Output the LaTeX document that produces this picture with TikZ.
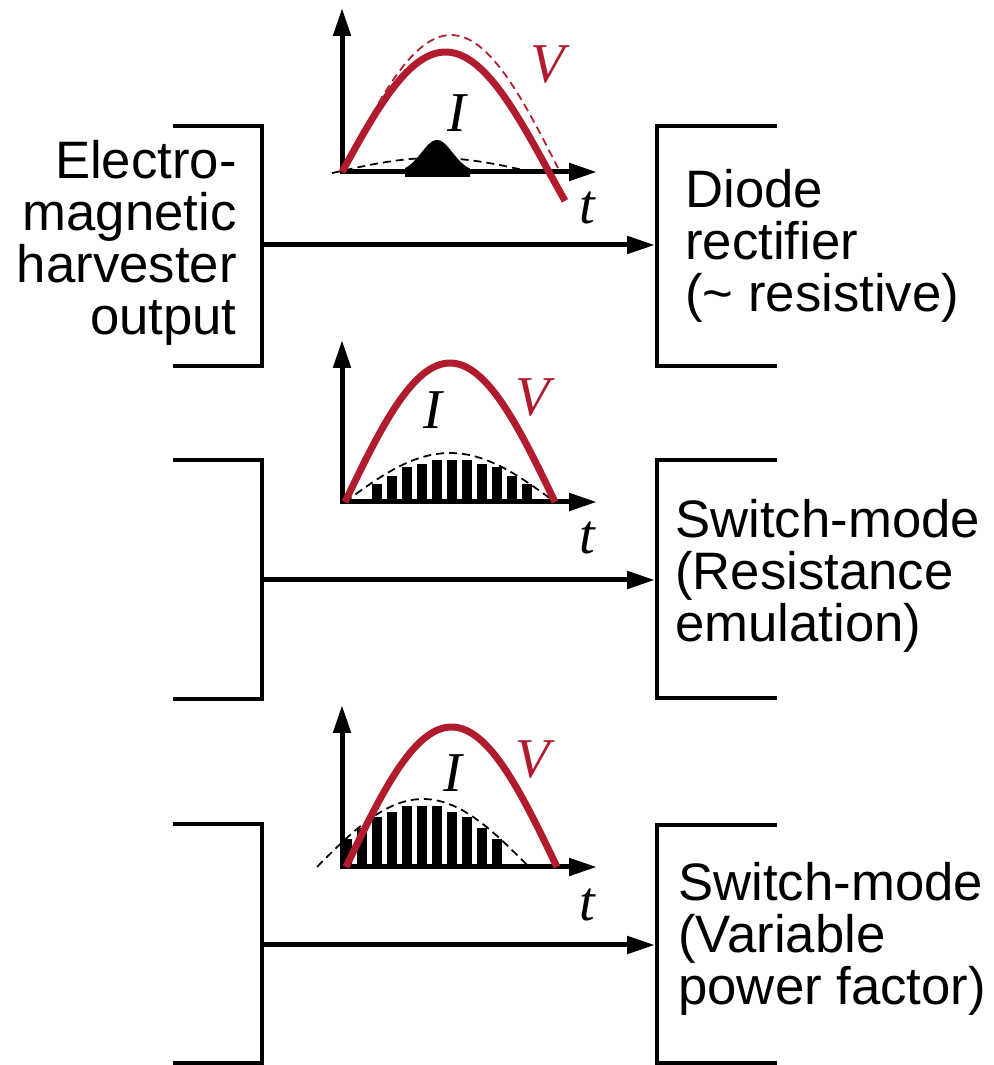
\documentclass[tikz,border=0pt]{standalone}
\usepackage{fontspec}
\setmainfont{Liberation Sans}
\newfontfamily\labelfont{Liberation Serif}
\usetikzlibrary{arrows.meta, positioning}
\definecolor{voltred}{RGB}{176,28,46}
\tikzset{
  blocktext/.style={
    inner sep=0pt,
    font=\fontsize{30}{29.6}\selectfont,
  },
  wavelabel/.style={
    inner sep=0pt,
    font=\fontsize{32}{32}\labelfont\itshape,
  },
  bracket/.style={
    draw=black,
    line width=0.08cm,
  },
  arrow/.style={
    -{Triangle[length=0.56cm, width=0.34cm]},
    line width=0.1cm
  },
  axes/.style={
    {Triangle[length=0.56cm, width=0.34cm]}-{Triangle[length=0.56cm, width=0.34cm]},
    line width=0.1cm
  },
  vcurve/.style={
    draw=voltred,
    line width=0.14cm
  },
  envelope/.style={
    dash pattern=on 0.16cm off 0.1cm,
    line width=0.035cm
  }
}
\begin{document}
\begin{tikzpicture}[x=0.02cm, y=0.02cm]
  \useasboundingbox (0,0) rectangle (994,1065);

  % Source side (harvester), base = last line
  \node [blocktext, align=right, anchor=base east] (harvester) at (237,730)
        {Electro-\\magnetic\\harvester\\output};

  % Load side (three interfaces)
  \node [blocktext, align=left, anchor=base west] (diode) at (685,753)
        {Diode\\rectifier\\(\textasciitilde{} resistive)};
  \node [blocktext, align=left, anchor=base west] (emul) at (675,423)
        {Switch-mode\\(Resistance\\emulation)};
  \node [blocktext, align=left, anchor=base west] (varpf) at (678,60)
        {Switch-mode\\(Variable\\power factor)};

  % Brackets
  \draw [bracket] (173,939) -| (262,699) -- (173,699);
  \draw [bracket] (173,605) -| (262,366) -- (173,366);
  \draw [bracket] (173,241) -| (262,2)   -- (173,2);
  \draw [bracket] (777,939) -| (657,699) -- (777,699);
  \draw [bracket] (777,605) -| (657,367) -- (777,367);
  \draw [bracket] (777,240) -| (657,2)   -- (777,2);

  % Connector end points
  \coordinate (srcA) at (262,820);
  \coordinate (dstA) at (655,820);
  \coordinate (srcB) at (262,485);
  \coordinate (dstB) at (655,485);
  \coordinate (srcC) at (262,120);
  \coordinate (dstC) at (655,120);

  \draw [arrow] (srcA) -- (dstA);
  \draw [arrow] (srcB) -- (dstB);
  \draw [arrow] (srcC) -- (dstC);

  % Waveform: diode rectifier
  \begin{scope}[shift={(342,893)}]
    \draw [envelope] plot[domain=-10:190, samples=40] (\x,{14*sin((\x+5)/195*180)});
    \draw [axes] (0,164) -- (0,0) -- (255,0);
    \fill [black] plot[domain=63:128, samples=40]
          (\x,{32*exp(-1*((\x-95)/22)*((\x-95)/22))}) -- (128,-5) -- (63,-5) -- cycle;
    \draw [envelope, draw=voltred] plot[domain=0:216, samples=50] (\x,{137*sin(\x/218*180)});
    \draw [vcurve] plot[domain=0:223, samples=60] (\x,{120*sin(\x/207*180)});
    \node [wavelabel, text=voltred] (vlabA) at (206,107) {V};
    \node [wavelabel] (ilabA) at (115,59) {I};
    \node [wavelabel] (tlabA) at (245,-36) {t};
  \end{scope}

  % Waveform: resistance emulation
  \begin{scope}[shift={(342,563)}]
    \draw [axes] (0,162) -- (0,0) -- (255,0);
    \foreach \bx/\bh in {35/18, 50/26, 65/35, 80/38, 95/42, 110/42,
                         125/42, 140/38, 155/35, 170/26, 185/18}
      \fill (\bx-4.75,0) rectangle (\bx+4.75,\bh);
    \draw [envelope] plot[domain=3:213, samples=40] (\x,{49*sin((\x-3)/210*180)});
    \draw [vcurve] plot[domain=3:213, samples=60] (\x,{139*sin((\x-3)/210*180)});
    \node [wavelabel, text=voltred] (vlabB) at (191,104) {V};
    \node [wavelabel] (ilabB) at (91,92) {I};
    \node [wavelabel] (tlabB) at (245,-36) {t};
  \end{scope}

  % Waveform: variable power factor
  \begin{scope}[shift={(342,198)}]
    \draw [axes] (0,162) -- (0,0) -- (255,0);
    \foreach \bx/\bh in {5/28, 20/39, 35/50, 50/55, 65/61, 80/61,
                         95/61, 110/55, 125/50, 140/39, 155/28}
      \fill (\bx-4.75,0) rectangle (\bx+4.75,\bh);
    \draw [envelope] plot[domain=-25:187, samples=40] (\x,{68*sin((\x+25)/212*180)});
    \draw [vcurve] plot[domain=4:215, samples=60] (\x,{140*sin((\x-4)/211*180)});
    \node [wavelabel, text=voltred] (vlabC) at (191,107) {V};
    \node [wavelabel] (ilabC) at (111,94) {I};
    \node [wavelabel] (tlabC) at (245,-38) {t};
  \end{scope}
\end{tikzpicture}
\end{document}
